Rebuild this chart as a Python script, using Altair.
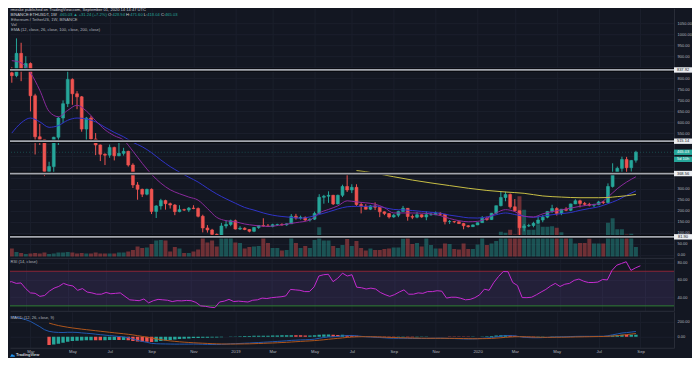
import altair as alt
import pandas as pd

# ---------------- data (weekly, week 0 = 2018-02-05) ----------------
opens = [825, 812, 913, 840, 867, 721, 535, 523, 378, 400,
         533, 620, 685, 795, 730, 716, 570, 620, 525, 498,
         456, 452, 487, 449, 460, 469, 407, 317, 297, 275,
         297, 197, 222, 246, 232, 226, 196, 205, 203, 212,
         210, 175, 122, 113, 93, 84, 131, 138, 155, 117,
         121, 115, 107, 124, 133, 131, 129, 137, 138, 136,
         141, 175, 167, 170, 158, 162, 188, 261, 266, 270,
         231, 270, 310, 294, 306, 228, 220, 207, 222, 216,
         195, 187, 172, 180, 197, 211, 174, 171, 182, 172,
         182, 182, 189, 184, 151, 151, 150, 142, 132, 128,
         136, 146, 166, 160, 189, 223, 260, 274, 218, 200,
         123, 131, 133, 143, 158, 171, 197, 210, 187, 207,
         202, 231, 245, 233, 229, 225, 228, 240, 237, 310,
         370, 392, 432, 395, 428.94]
highs = [850, 981, 961, 900, 872, 730, 593, 525, 422, 535,
         625, 700, 837, 800, 742, 720, 625, 630, 552, 500,
         460, 500, 490, 513, 485, 472, 415, 330, 300, 300,
         301, 225, 254, 250, 237, 230, 225, 209, 217, 225,
         215, 182, 135, 118, 97, 145, 158, 160, 160, 130,
         125, 117, 126, 135, 166, 140, 141, 141, 143, 143,
         185, 186, 178, 174, 166, 196, 275, 272, 288, 272,
         273, 318, 362, 320, 320, 238, 230, 226, 238, 217,
         197, 190, 185, 200, 222, 212, 183, 195, 183, 197,
         193, 197, 193, 185, 158, 153, 152, 145, 135, 138,
         147, 176, 174, 190, 223, 288, 287, 278, 253, 200,
         140, 141, 150, 175, 180, 198, 227, 216, 208, 216,
         232, 252, 250, 240, 236, 232, 245, 244, 324, 415,
         400, 445, 444, 430, 471.60]
lows = [780, 805, 787, 835, 650, 455, 498, 357, 362, 365,
        498, 597, 670, 680, 660, 558, 508, 515, 452, 425,
        407, 440, 428, 447, 450, 400, 303, 250, 262, 270,
        185, 167, 205, 205, 210, 180, 193, 199, 194, 207,
        170, 102, 101, 90, 82, 83, 120, 130, 115, 113,
        112, 102, 103, 118, 127, 127, 125, 131, 132, 132,
        140, 160, 160, 153, 151, 158, 185, 232, 236, 226,
        228, 262, 285, 280, 222, 188, 206, 203, 203, 171,
        180, 165, 168, 171, 196, 155, 162, 166, 168, 157,
        178, 180, 177, 138, 140, 144, 140, 116, 124, 127,
        135, 146, 155, 158, 184, 220, 243, 210, 195, 90,
        107, 126, 125, 141, 148, 166, 190, 178, 180, 198,
        198, 230, 215, 222, 220, 216, 225, 230, 232, 305,
        365, 375, 370, 377, 418.04]
closes = [812, 913, 840, 867, 721, 535, 523, 378, 400, 533,
          620, 685, 795, 730, 716, 570, 620, 525, 498, 456,
          452, 487, 449, 460, 469, 407, 317, 297, 275, 297,
          197, 222, 246, 232, 226, 196, 205, 203, 212, 210,
          175, 122, 113, 93, 84, 131, 138, 155, 117, 121,
          115, 107, 124, 133, 131, 129, 137, 138, 136, 141,
          175, 167, 170, 158, 162, 188, 261, 266, 270, 231,
          270, 310, 294, 306, 228, 220, 207, 222, 216, 195,
          187, 172, 180, 197, 211, 174, 171, 182, 172, 182,
          182, 189, 184, 151, 151, 150, 142, 132, 128, 136,
          146, 166, 160, 189, 223, 260, 274, 218, 200, 123,
          131, 133, 143, 158, 171, 197, 210, 187, 207, 202,
          231, 245, 233, 229, 225, 228, 240, 237, 310, 370,
          392, 432, 395, 428, 465.03]
volumes = [0.8, 0.45, 0.35, 0.25, 0.3, 0.35, 0.3, 0.4, 0.25, 0.3,
           0.4, 0.4, 0.45, 0.4, 0.3, 0.35, 0.3, 0.3, 0.4, 0.3,
           0.3, 0.3, 0.3, 0.4, 0.4, 0.5, 0.65, 1.0, 0.85, 0.9,
           1.25, 1.6, 1.65, 1.6, 0.5, 0.95, 0.8, 0.35, 0.35, 0.5,
           0.7, 1.85, 1.4, 1.6, 1.0, 2.1, 2.1, 2.0, 1.4, 1.35,
           0.8, 0.95, 1.0, 1.05, 2.1, 1.35, 0.85, 0.85, 0.6, 0.65,
           2.0, 1.35, 0.85, 1.05, 0.85, 1.65, 2.95, 1.6, 1.6, 1.05,
           0.85, 1.15, 1.75, 1.05, 1.55, 0.85, 0.6, 0.8, 0.65, 0.65,
           0.75, 0.8, 0.9, 0.9, 1.8, 2.15, 1.25, 1.35, 1.0, 1.9,
           1.15, 0.8, 0.8, 1.3, 1.25, 0.75, 0.7, 1.3, 0.75, 0.75,
           1.2, 1.95, 1.15, 1.3, 1.55, 2.5, 2.4, 2.7, 2.2, 6.05,
           4.7, 2.7, 2.7, 3.25, 3.0, 3.0, 3.05, 2.9, 2.45, 2.0,
           1.95, 1.3, 1.35, 1.35, 1.8, 1.3, 1.3, 1.3, 3.4, 3.85,
           2.75, 2.75, 2.2, 2.3, 0.95]
rsi_vals = [57, 58, 56, 56.5, 50, 45, 44.5, 41, 42, 47,
            50.5, 52.5, 56, 54, 53, 48, 50, 46, 45, 43.5,
            43.5, 45.5, 44, 44.5, 45, 41, 37, 36.5, 36, 38,
            33.5, 36, 37.5, 37, 36.5, 35, 36, 35.8, 36.3, 36,
            34, 30, 29.5, 28.5, 28, 34.5, 35.5, 37.5, 35, 35.5,
            35, 34.5, 36.5, 37, 39, 38.5, 39.5, 40, 40.5, 41.5,
            49, 48.5, 48, 46.5, 46.5, 52, 64.5, 66, 66.5, 58,
            62, 67.8, 64.5, 66, 51.6, 51, 49.5, 50.5, 49.5, 45.5,
            43, 41, 43, 46, 48.5, 43.5, 43.5, 45, 44.5, 46.5,
            46.5, 47.5, 47, 39, 40, 40, 38.8, 37, 37.5, 39.5,
            42.8, 49.3, 48, 57, 64, 69.7, 69.5, 57, 53.5, 39.6,
            39.5, 40, 42.8, 46, 49, 53, 56, 52.4, 55, 56,
            59.5, 61, 58.5, 57, 57, 57.5, 60.5, 60, 71, 77,
            79, 81, 71, 74, 76.3]
macd_vals = [268, 262, 245, 228, 205, 170, 135, 95, 72, 62,
             58, 57, 60, 60, 58, 52, 47, 42, 35, 28,
             22, 16, 10, 4, -2, -12, -30, -48, -62, -74,
             -88, -93, -95, -96, -97, -98, -98, -98, -98, -97,
             -98, -100, -102, -103, -104, -101, -98, -94, -92, -89,
             -86, -84, -80, -77, -73, -70, -66, -62, -58, -54,
             -48, -45, -42, -40, -37, -32, -20, -10, -2, 0,
             4, 12, 16, 18, 12, 6, 0, -3, -6, -10,
             -14, -18, -20, -20, -19, -21, -23, -23, -23, -22,
             -21, -20, -19, -21, -23, -24, -26, -28, -29, -28,
             -26, -21, -17, -11, -2, 8, 16, 15, 12, 2,
             -6, -11, -13, -13, -11, -8, -4, -3, -1, 0,
             3, 5, 6, 6, 6, 6, 7, 7, 14, 26,
             38, 50, 56, 63, 71]
signal_start = 8
signal_vals = [182, 165,
               150, 138, 127, 118, 110, 102, 95, 88, 81, 74,
               67, 60, 53, 47, 40, 33, 25, 15, 5, -6,
               -17, -28, -38, -47, -55, -61, -67, -72, -76, -80,
               -83, -86, -89, -92, -94, -96, -97, -97, -97, -96,
               -95, -94, -92, -90, -88, -85, -83, -80, -77, -74,
               -70, -66, -62, -58, -55, -51, -46, -40, -33, -27,
               -21, -15, -9, -4, -1, 1, 1, 0, -1, -3,
               -5, -8, -10, -12, -14, -15, -17, -18, -19, -20,
               -20, -20, -20, -20, -21, -22, -23, -24, -25, -26,
               -26, -25, -24, -22, -18, -13, -7, -3, 0, 1,
               0, -2, -4, -6, -7, -7, -7, -6, -6, -5,
               -4, -2, -1, 0, 1, 2, 3, 4, 6, 10,
               15, 22, 29, 36, 43]
ema12_idx = [0, 2, 4, 6, 8, 10, 12, 14, 16, 18, 20, 22, 24, 26, 28, 30, 32, 34, 36, 38,
             40, 42, 44, 46, 48, 50, 52, 55, 58, 61, 64, 66, 68, 70, 72, 74, 76, 78, 80, 82,
             84, 86, 88, 90, 92, 94, 96, 98, 100, 102, 104, 106, 108, 110, 112, 114, 116, 118,
             120, 122, 124, 126, 128, 130, 132, 134]
ema12_vals = [880, 870, 825, 746, 650, 626, 655, 678, 652, 608, 567, 540, 520, 470, 415, 365, 325, 295, 277, 262,
              248, 210, 170, 155, 150, 140, 134, 129, 136, 146, 158, 190, 206, 222, 245, 240, 236, 230, 214, 190,
              190, 190, 189, 186, 178, 165, 155, 150, 152, 165, 190, 205, 196, 175, 172, 186, 196, 204,
              212, 220, 226, 232, 262, 300, 330, 354]
ema26_idx = list(range(0, 135, 2))
ema26_vals = [552, 598, 620, 603, 578, 586, 610, 620, 616, 603,
              578, 555, 535, 510, 490, 463, 430, 400, 375, 352,
              330, 302, 276, 254, 234, 215, 203, 190, 180, 174,
              170, 166, 172, 183, 195, 208, 218, 220, 220, 221,
              214, 206, 204, 201, 197, 193, 189, 180, 174, 168,
              167, 172, 182, 190, 183, 175, 170, 176, 182, 187,
              192, 202, 210, 218, 232, 248, 270, 290]
ema100_idx = [74, 76, 78, 80, 82, 86, 90, 94, 98, 102, 106, 110, 114, 118, 122, 126, 128, 130, 132, 134]
ema100_vals = [382, 377, 370, 362, 354, 339, 326, 314, 302, 292, 285, 279, 267, 262, 259, 259, 260, 264, 268, 274]
level_vals = [837.92, 515.14, 368.56, 81.90]
level_txt = ["837.92", "515.14", "368.56", "81.90"]
last_price = 465.03
last_txt = "465.03"
countdown_txt = "5d 10h"
month_idx = [4, 13, 21, 30, 39, 48, 56, 65, 73, 82, 91, 100, 108, 117, 126, 135]
month_txt = ["Mar", "May", "Jul", "Sep", "Nov", "2019", "Mar", "May", "Jul", "Sep", "Nov", "2020",
             "Mar", "May", "Jul", "Sep"]
price_ticks = [0, 50, 100, 150, 200, 250, 300, 350, 400, 450, 500, 550, 600, 650, 700, 750,
               800, 850, 900, 950, 1000, 1050]
hidden_ticks = [350, 400, 450, 500, 850]
rsi_ticks = [40, 60, 80]
rsi_upper, rsi_lower = 70, 30
macd_ticks = [0, 200]
header1 = "rmeske published on TradingView.com, September 01, 2020 14:14:47 UTC"
header2 = [("BINANCE:ETHUSDT, 1W  ", "l"), ("465.03 \u25b2 +31.24 (+7.2%)  ", "t"), ("O:", "l"), ("428.94 ", "t"),
           ("H:", "l"), ("471.60 ", "t"), ("L:", "l"), ("418.04 ", "t"), ("C:", "l"), ("465.03", "t")]
legend_lines = ["Ethereum / TetherUS, 1W, BINANCE", "Vol", "EMA (12, close, 26, close, 100, close, 200, close)"]

# ---------------- styling ----------------
BG = "#131722"
UP = "#26a69a"
DN = "#ef5350"
TXT = "#b2b5be"
GRID = "#1b1f2c"
LINE = "#2a2e39"
FONT = "Liberation Sans"
W, H1, H2, H3 = 665, 250, 52, 36
PXW = 4.7354  # pixels per week
XS = alt.Scale(domain=[0.68, 0.68 + W / PXW], nice=False, zero=False)
PS = alt.Scale(domain=[-13.57, 1117.4], nice=False, zero=False)
VS = alt.Scale(domain=[-0.13, 24.87], nice=False, zero=False)
RS = alt.Scale(domain=[24.3, 84.3], nice=False, zero=False)
MS = alt.Scale(domain=[-146.7, 333.3], nice=False, zero=False)
DIRS = alt.Scale(domain=["up", "dn"], range=[UP, DN])
BOX = "M-1,-0.3L1,-0.3L1,0.3L-1,0.3Z"

mexpr = " : ".join(f"datum.value == {k} ? '{t}'" for k, t in zip(month_idx, month_txt)) + " : ''"


def xaxis(show):
    return alt.Axis(values=month_idx, labelExpr=mexpr, labels=show, ticks=False, grid=True, gridColor=GRID,
                    domain=True, domainColor=LINE, title=None, labelFontSize=4.2, labelColor=TXT, labelFont=FONT,
                    labelPadding=1.5, labelFlush=False, labelOverlap=False, orient="bottom")


XT = xaxis(False)
XB = xaxis(True)
hid = ",".join(str(v) for v in hidden_ticks)
PAX = alt.Axis(orient="right", values=price_ticks,
               labelExpr=f"indexof([{hid}], datum.value) >= 0 ? '' : format(datum.value, '.2f')",
               grid=True, gridColor=GRID, ticks=False, domain=True, domainColor=LINE, labelPadding=3,
               labelFontSize=4, labelColor=TXT, labelFont=FONT, title=None, labelOverlap=False, labelBound=False)
RAX = alt.Axis(orient="right", values=rsi_ticks, format=".2f", grid=True, gridColor=GRID, ticks=False,
               domain=True, domainColor=LINE, labelPadding=3, labelFontSize=4, labelColor=TXT, labelFont=FONT,
               title=None, labelOverlap=False)
MAX = alt.Axis(orient="right", values=macd_ticks, format=".2f", grid=True, gridColor=GRID, ticks=False,
               domain=True, domainColor=LINE, labelPadding=3, labelFontSize=4, labelColor=TXT, labelFont=FONT,
               title=None, labelOverlap=False)

n = len(opens)
df = pd.DataFrame({"i": list(range(n)), "o": opens, "h": highs, "l": lows, "c": closes, "v": volumes})
df["dir"] = ["up" if c >= o else "dn" for o, c in zip(opens, closes)]
df["blo"] = [min(o, c) for o, c in zip(opens, closes)]
df["bhi"] = [max(o, c) for o, c in zip(opens, closes)]

one = pd.DataFrame({"a": [0]})


def txt(s, x, y, color=TXT, size=4.2, align="left", weight="normal"):
    return alt.Chart(one).mark_text(text=s, align=align, baseline="middle", fontSize=size, font=FONT,
                                    color=color, fontWeight=weight).encode(x=alt.value(x), y=alt.value(y))


CW = {".": .278, ",": .278, ":": .278, " ": .278, "(": .333, ")": .333, "+": .584, "%": .889, "\u25b2": .72,
      "B": .667, "I": .278, "N": .722, "A": .667, "C": .722, "E": .667, "T": .611, "H": .722, "U": .722,
      "S": .667, "D": .722, "W": .944, "O": .778, "L": .556}


def tw(s, fs):
    return sum(CW.get(ch, .556 if ch.isdigit() else (.667 if ch.isupper() else .5)) for ch in s) * fs


X = alt.X("i:Q", scale=XS, axis=XT)
COL = alt.Color("dir:N", scale=DIRS, legend=None)

vol = alt.Chart(df).mark_bar(width=4.0, opacity=0.42, clip=True).encode(
    x=X, y=alt.Y("v:Q", scale=VS, axis=None), y2=alt.datum(0), color=COL)

layers = []
ema_specs = [(ema26_idx, ema26_vals, "#3034c8"), (ema12_idx, ema12_vals, "#8a2a9c"),
             (ema100_idx, ema100_vals, "#c8bf45")]
for idx, vals, col in ema_specs:
    e = pd.DataFrame({"i": idx, "e": vals})
    layers.append(alt.Chart(e).mark_line(color=col, strokeWidth=1, clip=True, interpolate="monotone").encode(
        x=X, y=alt.Y("e:Q", scale=PS, axis=PAX)))

wick = alt.Chart(df).mark_rule(strokeWidth=1, clip=True).encode(
    x=X, y=alt.Y("l:Q", scale=PS, axis=PAX), y2="h:Q", color=COL)
body = alt.Chart(df).mark_bar(width=2.9, strokeWidth=0.6, clip=True).encode(
    x=X, y=alt.Y("blo:Q", scale=PS, axis=PAX), y2="bhi:Q", color=COL,
    stroke=alt.Stroke("dir:N", scale=DIRS, legend=None))
layers = [wick, body] + layers

lv = pd.DataFrame({"y": level_vals, "t": level_txt})
layers.append(alt.Chart(lv).mark_rule(color="#07090d", strokeWidth=3.6).encode(y=alt.Y("y:Q", scale=PS, axis=PAX)))
layers.append(alt.Chart(lv).mark_rule(color="#a3a6ae", strokeWidth=1.7).encode(y=alt.Y("y:Q", scale=PS, axis=PAX)))
lp = pd.DataFrame({"y": [last_price], "t": [last_txt]})
layers.append(alt.Chart(lp).mark_rule(color=UP, strokeWidth=0.7, strokeDash=[1, 2], opacity=0.5).encode(
    y=alt.Y("y:Q", scale=PS, axis=PAX)))

# price tags on the axis
TAGX = W + 9
layers.append(alt.Chart(lv).mark_point(shape=BOX, size=324, filled=True, opacity=1, color="#eceef2").encode(
    x=alt.value(TAGX), y=alt.Y("y:Q", scale=PS, axis=PAX)))
layers.append(alt.Chart(lv).mark_text(fontSize=4, font=FONT, color=BG, baseline="middle").encode(
    x=alt.value(TAGX), y=alt.Y("y:Q", scale=PS, axis=PAX), text="t:N"))
layers.append(alt.Chart(lp).mark_point(shape=BOX, size=324, filled=True, opacity=1, color=UP).encode(
    x=alt.value(TAGX), y=alt.Y("y:Q", scale=PS, axis=PAX)))
layers.append(alt.Chart(lp).mark_text(fontSize=4, font=FONT, color="#ffffff", baseline="middle").encode(
    x=alt.value(TAGX), y=alt.Y("y:Q", scale=PS, axis=PAX), text="t:N"))
layers.append(alt.Chart(one).mark_point(shape=BOX, size=324, filled=True, opacity=1, color=UP).encode(
    x=alt.value(TAGX), y=alt.value(151.3)))
layers.append(txt(countdown_txt, TAGX, 151.3, color="#ffffff", size=4, align="center"))

# header and legend texts
layers.append(txt(header1, 0.5, 2.2, color="#d1d4dc", size=4.1))
x = 0.5
for seg, kind in header2:
    layers.append(txt(seg, x, 6.8, color=("#d1d4dc" if kind == "l" else UP), size=4.1))
    x += tw(seg, 4.1)
for k, s in enumerate(legend_lines):
    layers.append(txt(s, 1.0, [11.6, 16.5, 22.2][k], size=4.1))

price = alt.layer(vol, alt.layer(*layers)).resolve_scale(y="independent").properties(width=W, height=H1)

# ---------------- RSI ----------------
rdf = pd.DataFrame({"i": list(range(n)), "r": rsi_vals})
band = pd.DataFrame({"t": [rsi_upper], "b": [rsi_lower]})
rsi_p = alt.layer(
    alt.Chart(band).mark_rect(color="#7e57c2", opacity=0.15).encode(
        x=alt.value(0), x2=alt.value(W), y=alt.Y("t:Q", scale=RS, axis=RAX), y2="b:Q"),
    alt.Chart(band).mark_rule(color="#8c2437", strokeWidth=1).encode(y=alt.Y("t:Q", scale=RS, axis=RAX)),
    alt.Chart(band).mark_rule(color="#2e7d32", strokeWidth=1).encode(y=alt.Y("b:Q", scale=RS, axis=RAX)),
    alt.Chart(rdf).mark_line(color="#c52bd0", strokeWidth=1, clip=True).encode(
        x=X, y=alt.Y("r:Q", scale=RS, axis=RAX)),
    txt("RSI (14, close)", 0.5, 3.5, size=4.1),
).properties(width=W, height=H2)

# ---------------- MACD ----------------
hist = [m - s for m, s in zip(macd_vals[signal_start:], signal_vals)]
cats = []
prev = None
for h in hist:
    if h >= 0:
        cats.append("pr" if (prev is None or h >= prev) else "pf")
    else:
        cats.append("nf" if (prev is None or h <= prev) else "nr")
    prev = h
hdf = pd.DataFrame({"i": list(range(signal_start, n)), "h": hist, "k": cats})
mdf = pd.DataFrame({"i": list(range(n)), "m": macd_vals})
sdf = pd.DataFrame({"i": list(range(signal_start, n)), "s": signal_vals})
XM = alt.X("i:Q", scale=XS, axis=XB)
macd_p = alt.layer(
    alt.Chart(hdf).mark_bar(width=3.4, clip=True).encode(
        x=XM, y=alt.Y("h:Q", scale=MS, axis=MAX), y2=alt.datum(0),
        color=alt.Color("k:N", scale=alt.Scale(domain=["pr", "pf", "nr", "nf"],
                                               range=["#26a69a", "#b2dfdb", "#ffcdd2", "#ef5350"]), legend=None)),
    alt.Chart(mdf).mark_line(color="#2158b0", strokeWidth=1, clip=True).encode(
        x=XM, y=alt.Y("m:Q", scale=MS, axis=MAX)),
    alt.Chart(sdf).mark_line(color="#b0561c", strokeWidth=1, clip=True).encode(
        x=XM, y=alt.Y("s:Q", scale=MS, axis=MAX)),
    txt("MACD (12, 26, close, 9)", 0.5, 5.7, size=4.1),
    alt.Chart(one).mark_point(shape="M-1,0.6L-0.2,-0.6L0.3,0.1L0.6,-0.3L1,0.6Z", size=25, filled=True,
                              color="#2196f3", opacity=1).encode(x=alt.value(2.5), y=alt.value(H3 + 7.6)),
    txt("TradingView", 6.0, H3 + 7.6, color="#d1d4dc", size=4.0, weight="bold"),
).properties(width=W, height=H3)

chart = alt.vconcat(price, rsi_p, macd_p, spacing=1, bounds="flush").properties(
    padding=0, background=BG).configure_view(strokeWidth=0)

chart.save("out.html", embed_options={"renderer": "svg", "actions": False})
